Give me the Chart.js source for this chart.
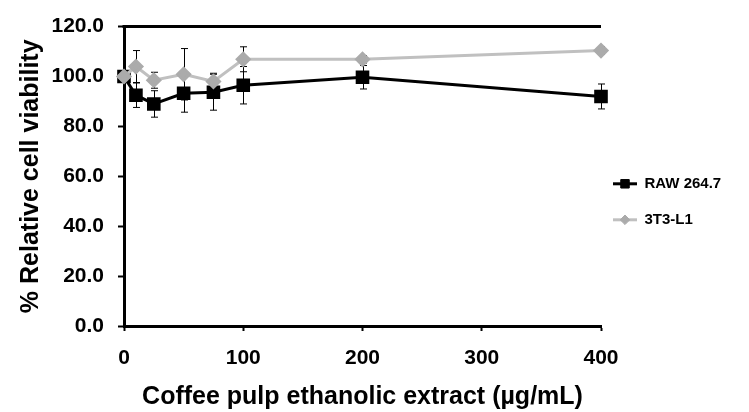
<!DOCTYPE html>
<html>
<head>
<meta charset="utf-8">
<script src="https://cdn.jsdelivr.net/npm/chart.js@4/dist/chart.umd.min.js"></script>
<style>
  html, body { margin: 0; padding: 0; background: #fff; }
</style>
</head>
<body>
<canvas id="viability" width="749" height="412"></canvas>
<script>
const doses = [0, 10, 25, 50, 75, 100, 200, 400];
const rawValues = [100, 92.5, 89, 93.3, 93.7, 96.5, 99.7, 92];
const rawErrors = [0, 4.9, 5.3, 7.6, 7.2, 7.5, 4.7, 5];
const l1Values = [100, 104, 98.5, 100.9, 98, 106.9, 106.9, 110.4];
const l1Errors = [0, 6.4, 3.2, 10.3, 3.3, 5, 1.5, 1.5];
const seriesNames = ['RAW 264.7', '3T3-L1'];
const yTitle = '% Relative cell viability';
const xTitle = 'Coffee pulp ethanolic extract (µg/mL)';

const FONT = '"Liberation Sans", Arial, sans-serif';
const errors = [rawErrors, l1Errors];
const legendWidth = 148;

// error bars, drawn under the markers
const errorBars = {
  id: 'errorBars',
  beforeDatasetsDraw(chart) {
    const ctx = chart.ctx;
    const xs = chart.scales.x;
    const ys = chart.scales.y;
    ctx.save();
    ctx.strokeStyle = '#000';
    ctx.lineWidth = 1;
    chart.data.datasets.forEach((ds, d) => {
      ds.data.forEach((p, i) => {
        const e = errors[d][i];
        if (!e) return;
        const x = Math.round(xs.getPixelForValue(p.x)) + 0.5;
        const top = ys.getPixelForValue(p.y + e);
        const bot = ys.getPixelForValue(p.y - e);
        ctx.beginPath();
        ctx.moveTo(x, top); ctx.lineTo(x, bot);
        ctx.moveTo(x - 3.5, top); ctx.lineTo(x + 3.5, top);
        ctx.moveTo(x - 3.5, bot); ctx.lineTo(x + 3.5, bot);
        ctx.stroke();
      });
    });
    ctx.restore();
  }
};

// fixed legend width so the plot ends where the reference does
const fixedLegend = {
  id: 'fixedLegend',
  beforeLayout(chart) {
    const lg = chart.legend;
    if (lg && !lg._fixed) {
      const fit = lg.fit.bind(lg);
      lg.fit = function () { fit(); this.width = legendWidth; };
      lg._fixed = true;
    }
  }
};

// top border of the plot + line-with-marker legend symbols
const frameAndLegend = {
  id: 'frameAndLegend',
  afterDraw(chart) {
    const ctx = chart.ctx;
    const a = chart.chartArea;
    ctx.save();
    ctx.strokeStyle = '#000';
    ctx.lineWidth = 3;
    ctx.beginPath();
    ctx.moveTo(a.left - 1.5, a.top);
    ctx.lineTo(a.right, a.top);
    ctx.stroke();

    const boxW = chart.options.plugins.legend.labels.boxWidth;
    chart.legend.legendHitBoxes.forEach((hb, i) => {
      const ds = chart.data.datasets[i];
      const cy = hb.top + hb.height / 2;
      ctx.strokeStyle = ds.borderColor;
      ctx.lineWidth = 3;
      ctx.beginPath();
      ctx.moveTo(hb.left, cy);
      ctx.lineTo(hb.left + boxW, cy);
      ctx.stroke();
      ctx.fillStyle = ds.pointBackgroundColor;
      ctx.strokeStyle = ds.pointBorderColor;
      ctx.lineWidth = 1;
      Chart.helpers.drawPoint(ctx, {
        pointStyle: ds.pointStyle,
        radius: ds.pointRadius * 0.8,
        rotation: 0,
        borderWidth: 1
      }, hb.left + boxW / 2, cy);
    });
    ctx.restore();
  }
};

const data = {
  datasets: [
    {
      label: seriesNames[0],
      data: doses.map((x, i) => ({ x, y: rawValues[i] })),
      borderColor: '#000000',
      borderWidth: 3,
      pointStyle: 'rect',
      pointRadius: 7.5,
      pointBackgroundColor: '#000000',
      pointBorderColor: '#000000',
      showLine: true,
      clip: false,
      order: 1
    },
    {
      label: seriesNames[1],
      data: doses.map((x, i) => ({ x, y: l1Values[i] })),
      borderColor: '#c0c0c0',
      borderWidth: 3,
      pointStyle: 'rectRot',
      pointRadius: 6,
      pointBackgroundColor: '#ababab',
      pointBorderColor: '#ababab',
      showLine: true,
      clip: false,
      order: 0
    }
  ]
};

const config = {
  type: 'scatter',
  data: data,
  options: {
    responsive: false,
    animation: false,
    layout: { padding: { top: 25, left: 0, right: 0, bottom: 0 } },
    plugins: {
      tooltip: { enabled: false },
      legend: {
        position: 'right',
        fullSize: false,
        title: { display: true, text: '', font: { size: 10 }, padding: { top: 39, bottom: 0 } },
        labels: {
          boxWidth: 24,
          boxHeight: 24,
          padding: 12,
          color: '#000',
          font: { family: FONT, size: 15, weight: 'bold' },
          sort: (a, b) => a.datasetIndex - b.datasetIndex,
          generateLabels(chart) {
            return chart.data.datasets.map((ds, i) => ({
              text: ds.label,
              datasetIndex: i,
              fillStyle: 'rgba(0,0,0,0)',
              strokeStyle: 'rgba(0,0,0,0)',
              lineWidth: 0,
              fontColor: '#000',
              hidden: false
            }));
          }
        }
      }
    },
    scales: {
      x: {
        type: 'linear',
        min: 0,
        max: 400,
        afterFit(scale) { scale.height = 86; },
        ticks: {
          stepSize: 100,
          padding: 15,
          color: '#000',
          font: { family: FONT, size: 21, weight: 'bold' }
        },
        grid: {
          drawOnChartArea: false,
          tickLength: 5,
          tickWidth: 2,
          tickColor: '#000'
        },
        border: { color: '#000', width: 3 },
        title: {
          display: true,
          text: xTitle,
          color: '#000',
          padding: { top: 0, bottom: 0 },
          font: { family: FONT, size: 25, weight: 'bold' }
        }
      },
      y: {
        min: 0,
        max: 120,
        afterFit(scale) { scale.width = 124; },
        ticks: {
          stepSize: 20,
          padding: 14,
          color: '#000',
          font: { family: FONT, size: 21, weight: 'bold' },
          callback: v => v.toFixed(1)
        },
        grid: {
          drawOnChartArea: false,
          tickLength: 6,
          tickWidth: 2,
          tickColor: '#000'
        },
        border: { color: '#000', width: 3 },
        title: {
          display: true,
          text: yTitle,
          color: '#000',
          padding: { top: 16, bottom: 0 },
          font: { family: FONT, size: 25, weight: 'bold' }
        }
      }
    }
  },
  plugins: [errorBars, fixedLegend, frameAndLegend]
};

const viability = new Chart(document.getElementById('viability').getContext('2d'), config);
</script>
</body>
</html>
